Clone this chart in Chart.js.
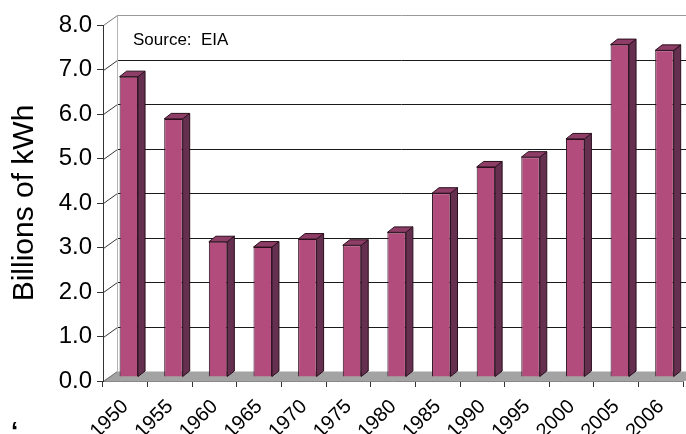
<!DOCTYPE html>
<html>
<head>
<meta charset="utf-8">
<script src="https://cdn.jsdelivr.net/npm/chart.js@4"></script>
<style>
  body { margin: 0; background: #fff; }
  canvas { display: block; }
</style>
</head>
<body>
<canvas id="kwhChart" width="686" height="434"></canvas>
<script>
// generation by year, billions of kWh
const years = ['1950', '1955', '1960', '1965', '1970', '1975', '1980',
               '1985', '1990', '1995', '2000', '2005', '2006'];
const kwh = [6.75, 5.80, 3.04, 2.92, 3.10, 2.96, 3.25, 4.13, 4.72, 4.94, 5.35, 7.47, 7.34];

const sourceNote = 'Source:  EIA';

// fake 3D: how far the back wall sits behind the axes, and the bar box depth
const WALL_DX = 14, WALL_DY = 10;
const BAR_SHIFT_X = 3.5, BAR_SHIFT_Y = 4;
const BAR_DX = 7, BAR_DY = 5.5;

const FONT = 'Liberation Sans, Arial, Helvetica, sans-serif';
Chart.defaults.font.family = FONT;
Chart.defaults.color = '#000';

const crisp = v => Math.round(v) + 0.5;

function line(ctx, x1, y1, x2, y2, color) {
  ctx.strokeStyle = color;
  ctx.beginPath();
  ctx.moveTo(x1, y1);
  ctx.lineTo(x2, y2);
  ctx.stroke();
}

const room3d = {
  id: 'room3d',
  beforeDraw(chart) {
    const { ctx, chartArea: a, scales: { y } } = chart;
    const backL = a.left + WALL_DX;
    const floorY = crisp(a.bottom) - WALL_DY;
    ctx.save();
    ctx.lineWidth = 1;

    // floor
    ctx.fillStyle = '#a3a3a3';
    ctx.beginPath();
    ctx.moveTo(a.left, a.bottom);
    ctx.lineTo(a.right + WALL_DX, a.bottom);
    ctx.lineTo(a.right + WALL_DX, floorY);
    ctx.lineTo(backL, floorY);
    ctx.closePath();
    ctx.fill();

    // back wall grid and side wall connectors
    y.ticks.forEach(t => {
      const fy = crisp(y.getPixelForValue(t.value));
      const by = fy - WALL_DY;
      const edge = t.value === 0 || t.value === 8;
      if (t.value > 0) line(ctx, backL, by, chart.width, by, edge ? '#999' : '#1a1a1a');
      line(ctx, crisp(a.left), fy, backL + 0.5, by, edge ? '#777' : '#333');
    });
    line(ctx, backL + 0.5, crisp(y.getPixelForValue(8)) - WALL_DY, backL + 0.5, floorY, '#b4b4b4');
    ctx.restore();
  },
  beforeDatasetsDraw(chart) {
    chart.ctx.save();
    chart.ctx.translate(BAR_SHIFT_X, -BAR_SHIFT_Y);
  },
  afterDatasetsDraw(chart) {
    const ctx = chart.ctx;
    ctx.lineWidth = 1;
    ctx.strokeStyle = '#2a0f1d';
    chart.getDatasetMeta(0).data.forEach(bar => {
      const { x, y, base, width } = bar.getProps(['x', 'y', 'base', 'width'], true);
      const l = x - width / 2, r = x + width / 2;
      // side face
      ctx.fillStyle = '#65304f';
      ctx.beginPath();
      ctx.moveTo(r, y);
      ctx.lineTo(r + BAR_DX, y - BAR_DY);
      ctx.lineTo(r + BAR_DX, base - BAR_DY);
      ctx.lineTo(r, base);
      ctx.closePath();
      ctx.fill();
      ctx.stroke();
      // top face
      ctx.fillStyle = '#8e3d67';
      ctx.beginPath();
      ctx.moveTo(l, y);
      ctx.lineTo(l + BAR_DX, y - BAR_DY);
      ctx.lineTo(r + BAR_DX, y - BAR_DY);
      ctx.lineTo(r, y);
      ctx.closePath();
      ctx.fill();
      ctx.stroke();
    });
    ctx.restore();
  },
  afterDraw(chart) {
    const ctx = chart.ctx;
    ctx.save();
    ctx.fillStyle = '#000';
    ctx.font = '17px ' + FONT;
    ctx.textBaseline = 'alphabetic';
    ctx.fillText(sourceNote, 133, 44.5);
    ctx.font = 'bold 26px ' + FONT;
    ctx.fillText('\u2018', 11, 440);
    ctx.restore();
  }
};

new Chart(document.getElementById('kwhChart'), {
  type: 'bar',
  data: {
    labels: years,
    datasets: [{
      data: kwh,
      backgroundColor: '#b14c7d',
      borderColor: '#2a0f1d',
      borderWidth: 1,
      barPercentage: 0.414,
      categoryPercentage: 1,
      clip: false
    }]
  },
  options: {
    responsive: false,
    animation: false,
    layout: { padding: { top: 25, right: 2, left: 0, bottom: 0 } },
    plugins: {
      legend: { display: false },
      tooltip: { enabled: false }
    },
    scales: {
      x: {
        afterFit: s => { s.height = 53; },
        grid: { drawOnChartArea: false, tickLength: 6, color: '#333', offset: true },
        border: { color: '#888' },
        ticks: {
          autoSkip: false, maxRotation: 45, minRotation: 45,
          padding: 8,
          font: { size: 20 }
        }
      },
      y: {
        min: 0,
        max: 8,
        afterFit: s => { s.width = 103; },
        grid: { drawOnChartArea: false, tickLength: 6, color: '#333' },
        border: { color: '#333' },
        ticks: {
          stepSize: 1,
          padding: 5,
          font: { size: 24 },
          callback: v => v.toFixed(1)
        },
        title: {
          display: true,
          text: 'Billions of kWh',
          font: { size: 30 },
          padding: { top: 7, bottom: 0 }
        }
      }
    }
  },
  plugins: [room3d]
});
</script>
</body>
</html>
